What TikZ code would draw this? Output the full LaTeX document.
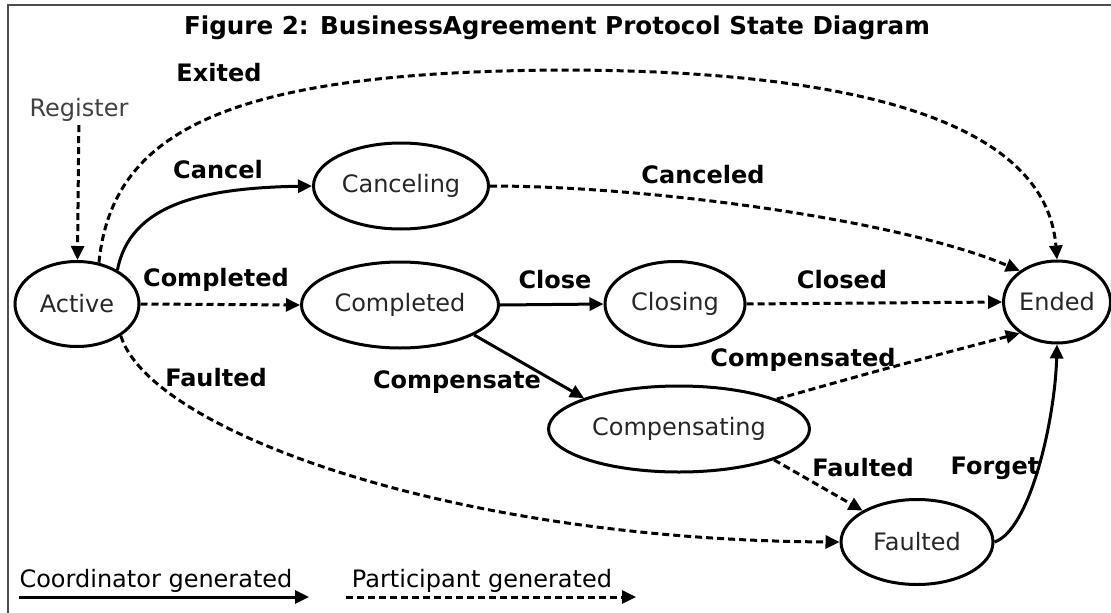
\documentclass[tikz,border=0pt]{standalone}
\usepackage{fontspec}
\setmainfont{DejaVu Sans}
\usetikzlibrary{
  positioning,
  arrows.meta,
  shapes.geometric
}

\begin{document}
\begin{tikzpicture}[
    x=1pt,y=-1pt,
    font=\fontsize{24}{28}\selectfont,
    stateNode/.style={draw,ellipse,line width=3pt,inner sep=0pt,text=black!85},
    labelNode/.style={font=\fontsize{24}{28}\selectfont\bfseries},
    coordEdge/.style={line width=3pt,-{Triangle[length=14pt,width=13pt]}},
    partEdge/.style={coordEdge,dash pattern=on 7pt off 4pt},
  ]
    \clip (0,0) rectangle (1111,613);
    \useasboundingbox (0,0) rectangle (1111,613);
    \draw[black!70,line width=2pt] (8,5) rectangle (1140,640);

    \node[labelNode,font=\fontsize{24.6}{28}\selectfont\bfseries] (title) at (557,28) {Figure 2: BusinessAgreement Protocol State Diagram};

    % states
    \node[stateNode,minimum width=124pt,minimum height=85pt] (active) at (77,304) {Active};
    \node[stateNode,minimum width=175pt,minimum height=86pt] (canceling) at (401,186) {Canceling};
    \node[stateNode,minimum width=197pt,minimum height=86pt] (completed) at (400,305) {Completed};
    \node[stateNode,minimum width=140pt,minimum height=85pt] (closing) at (675,304) {Closing};
    \node[stateNode,minimum width=106pt,minimum height=82pt] (ended) at (1057,302) {Ended};
    \node[stateNode,minimum width=261pt,minimum height=86pt] (compensating) at (679,429) {Compensating};
    \node[stateNode,minimum width=152pt,minimum height=85pt] (faulted) at (917,542) {Faulted};

    \node[text=black!75] (register) at (79,110) {Register};
    \draw[partEdge] (register) -- (active);

    % transitions
    \draw[partEdge] (active.62) .. controls (112,130) and (230,72) .. (560,70)
      .. controls (820,70) and (1045,110) .. (ended.north);
    \draw[coordEdge] (active.40) .. controls (130,205) and (200,188) .. (canceling.west);
    \draw[partEdge] (canceling.east) .. controls (650,186) and (900,220) .. (ended.140);
    \draw[partEdge] (active.east) -- (completed.west);
    \draw[coordEdge] (completed.east) -- (closing.west);
    \draw[partEdge] (closing.east) -- (ended.west);
    \draw[coordEdge] (completed.-22) -- (compensating.162);
    \draw[partEdge] (compensating.17) .. controls (880,370) .. (ended.220);
    \draw[partEdge] (compensating.-18) -- (faulted.150);
    \draw[partEdge] (active.-36) .. controls (150,430) and (450,540) .. (faulted.west);
    \draw[coordEdge] (faulted.east) .. controls (1030,530) and (1055,420) .. (ended.south);

    % labels
    \node[labelNode] (lExited) at (219,73) {Exited};
    \node[labelNode] (lCancel) at (218,170) {Cancel};
    \node[labelNode] (lCompleted) at (216,280) {Completed};
    \node[labelNode] (lClose) at (555,280) {Close};
    \node[labelNode] (lCanceled) at (703,175) {Canceled};
    \node[labelNode] (lClosed) at (842,280) {Closed};
    \node[labelNode] (lFaultedA) at (216,378) {Faulted};
    \node[labelNode] (lCompensate) at (457,382) {Compensate};
    \node[labelNode] (lCompensated) at (803,360) {Compensated};
    \node[labelNode] (lFaultedB) at (863,468) {Faulted};
    \node[labelNode] (lForget) at (995,468) {Forget};

    % legend
    \node (coordText) at (156,581) {Coordinator generated};
    \node (partText) at (482,581) {Participant generated};
    \coordinate (coordA) at (19,597);
    \coordinate (coordB) at (309,597);
    \coordinate (partA) at (346,597);
    \coordinate (partB) at (636,597);
    \draw[coordEdge] (coordA) -- (coordB);
    \draw[partEdge] (partA) -- (partB);
  \end{tikzpicture}
\end{document}
